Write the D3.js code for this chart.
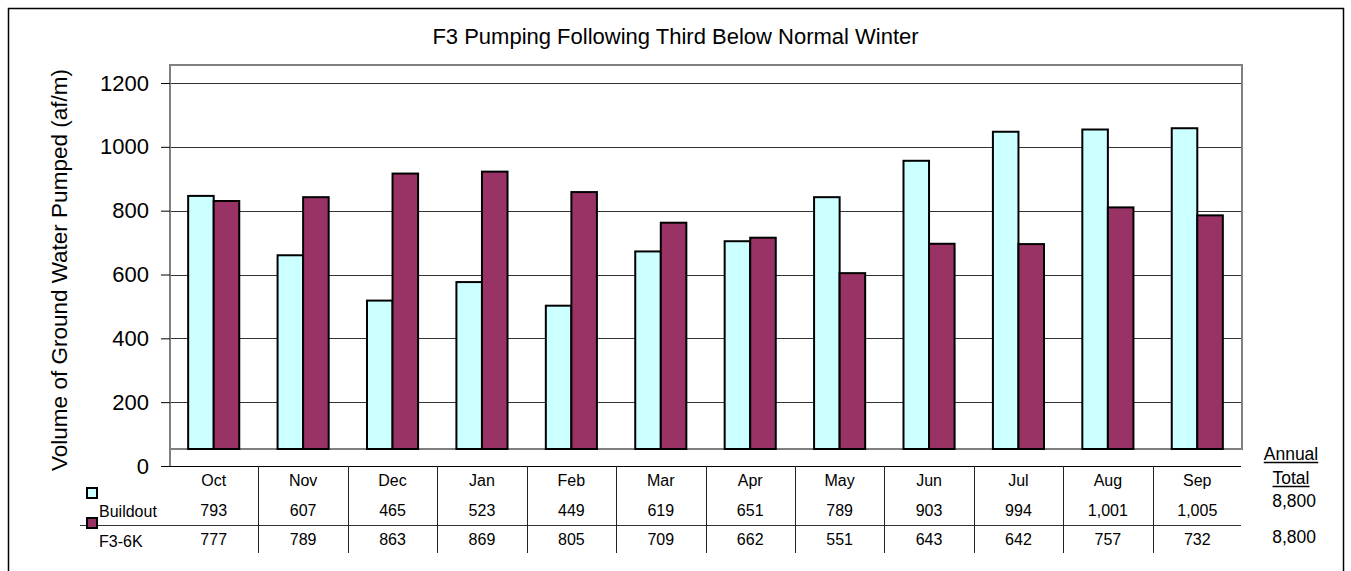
<!DOCTYPE html>
<html>
<head>
<meta charset="utf-8">
<script src="https://cdn.jsdelivr.net/npm/d3@7"></script>
<style>
  html, body { margin: 0; padding: 0; background: #fff; }
  svg { display: block; font-family: "Liberation Sans", Arial, sans-serif; }
</style>
</head>
<body>
<svg id="chart" width="1351" height="571"></svg>
<script>
// Monthly pumping volumes (af/m) for the water year
const months = ["Oct", "Nov", "Dec", "Jan", "Feb", "Mar", "Apr", "May", "Jun", "Jul", "Aug", "Sep"];
const seriesNames = ["Buildout", "F3-6K"];
const buildout = [793, 607, 465, 523, 449, 619, 651, 789, 903, 994, 1001, 1005];
const f36k = [777, 789, 863, 869, 805, 709, 662, 551, 643, 642, 757, 732];
const annualTotals = ["8,800", "8,800"];
const yTicks = [0, 200, 400, 600, 800, 1000, 1200];
const colors = ["#CCFFFF", "#993366"];

const title = "F3 Pumping Following Third Below Normal Winter";
const yTitle = "Volume of Ground Water Pumped (af/m)";

const svg = d3.select("#chart");

// chart frame
svg.append("rect")
  .attr("x", 8.5).attr("y", 8.5)
  .attr("width", 1335).attr("height", 600)
  .attr("fill", "#fff").attr("stroke", "#000").attr("stroke-width", 1.5);

const plot = { left: 170, right: 1242, top: 65, floor: 449 };

// category bands shared by the bars and the data table
const x = d3.scaleBand().domain(months).range([169, 1242]).paddingInner(0).paddingOuter(0);
const xs = d3.scaleBand().domain(seriesNames).range([0, x.bandwidth()]).paddingInner(0).paddingOuter(0.75);

// value axis and the scale the columns stand on (floor sits above the axis zero)
const yAxisScale = d3.scaleLinear().domain([0, 1200]).range([466, 83]);
const yBar = d3.scaleLinear().domain([0, 1200]).range([plot.floor, plot.floor - 383]);

// title
svg.append("text")
  .attr("x", 675.5).attr("y", 44)
  .attr("text-anchor", "middle")
  .attr("font-size", 22)
  .text(title);

// y axis title
svg.append("text")
  .attr("transform", "translate(67,270) rotate(-90)")
  .attr("text-anchor", "middle")
  .attr("font-size", 22.5)
  .text(yTitle);

// plot area border
svg.append("rect")
  .attr("x", plot.left).attr("y", plot.top)
  .attr("width", plot.right - plot.left).attr("height", plot.floor - plot.top)
  .attr("fill", "none").attr("stroke", "#808080").attr("stroke-width", 2);

// gridlines
svg.append("g")
  .selectAll("line")
  .data(yTicks.filter(d => d > 0))
  .join("line")
  .attr("x1", plot.left).attr("x2", plot.right - 1)
  .attr("y1", d => Math.round(yAxisScale(d)) + 0.5)
  .attr("y2", d => Math.round(yAxisScale(d)) + 0.5)
  .attr("stroke", "#333").attr("stroke-width", 1);

// y axis
const yAxis = d3.axisLeft(yAxisScale).tickValues(yTicks).tickSize(9).tickPadding(12).tickFormat(d3.format("d"));
const gy = svg.append("g").attr("transform", `translate(${plot.left},0)`).call(yAxis);
gy.select(".domain").attr("stroke", "#808080").attr("stroke-width", 2)
  .attr("d", `M0,${plot.top}V${yAxisScale(0)}`);
gy.selectAll(".tick line").attr("stroke", "#000").attr("stroke-width", 1);
gy.selectAll(".tick text").attr("font-size", 22).attr("fill", "#000")
  .attr("font-family", "Liberation Sans, Arial, sans-serif");

// columns
const seriesData = [buildout, f36k];
const groups = svg.append("g").selectAll("g")
  .data(months)
  .join("g")
  .attr("transform", m => `translate(${x(m)},0)`);

groups.selectAll("rect")
  .data((m, i) => seriesNames.map((s, k) => ({ s, k, v: seriesData[k][i] })))
  .join("rect")
  .attr("x", d => xs(d.s))
  .attr("width", xs.bandwidth())
  .attr("y", d => yBar(d.v))
  .attr("height", d => yBar(0) - yBar(d.v))
  .attr("fill", d => colors[d.k])
  .attr("stroke", "#000").attr("stroke-width", 2);

// data table
const table = svg.append("g");
const rowY = { top: 466, mid: 525, bottom: 553 };

table.append("line")
  .attr("x1", 161).attr("x2", plot.right - 1)
  .attr("y1", rowY.top + 0.5).attr("y2", rowY.top + 0.5)
  .attr("stroke", "#000").attr("stroke-width", 1);
table.append("line")
  .attr("x1", 80).attr("x2", plot.right - 1)
  .attr("y1", rowY.mid + 0.5).attr("y2", rowY.mid + 0.5)
  .attr("stroke", "#333").attr("stroke-width", 1);
table.selectAll(".vline")
  .data(months.slice(1))
  .join("line")
  .attr("class", "vline")
  .attr("x1", m => Math.round(x(m)) + 0.5).attr("x2", m => Math.round(x(m)) + 0.5)
  .attr("y1", rowY.top).attr("y2", rowY.bottom)
  .attr("stroke", "#222").attr("stroke-width", 1);

const cx = m => x(m) + x.bandwidth() / 2;
table.selectAll(".mon")
  .data(months)
  .join("text")
  .attr("class", "mon")
  .attr("x", cx).attr("y", 486)
  .attr("text-anchor", "middle").attr("font-size", 16)
  .text(m => m);

seriesData.forEach((vals, k) => {
  table.selectAll(".val" + k)
    .data(months)
    .join("text")
    .attr("class", "val" + k)
    .attr("x", cx).attr("y", k === 0 ? 516 : 545)
    .attr("text-anchor", "middle").attr("font-size", 16)
    .text((m, i) => d3.format(",")(vals[i]));
});

// legend keys in the table's row headers
const legend = svg.append("g");
seriesNames.forEach((s, k) => {
  legend.append("rect")
    .attr("x", 87).attr("y", k === 0 ? 488 : 518)
    .attr("width", 10).attr("height", 10)
    .attr("fill", colors[k]).attr("stroke", "#000").attr("stroke-width", 2);
  legend.append("text")
    .attr("x", 99).attr("y", k === 0 ? 517 : 547)
    .attr("font-size", 16)
    .text(s);
});

// annual totals
const totals = svg.append("g");
[["Annual", 460], ["Total", 484]].forEach(([t, yy]) => {
  const txt = totals.append("text")
    .attr("x", 1291).attr("y", yy)
    .attr("text-anchor", "middle").attr("font-size", 17.5)
    .text(t);
  const bb = txt.node().getBBox();
  totals.append("line")
    .attr("x1", bb.x).attr("x2", bb.x + bb.width)
    .attr("y1", yy + 2.5).attr("y2", yy + 2.5)
    .attr("stroke", "#000").attr("stroke-width", 1.3);
});
annualTotals.forEach((t, k) => {
  totals.append("text")
    .attr("x", 1316).attr("y", k === 0 ? 507 : 543)
    .attr("text-anchor", "end").attr("font-size", 17.5)
    .text(t);
});
</script>
</body>
</html>
